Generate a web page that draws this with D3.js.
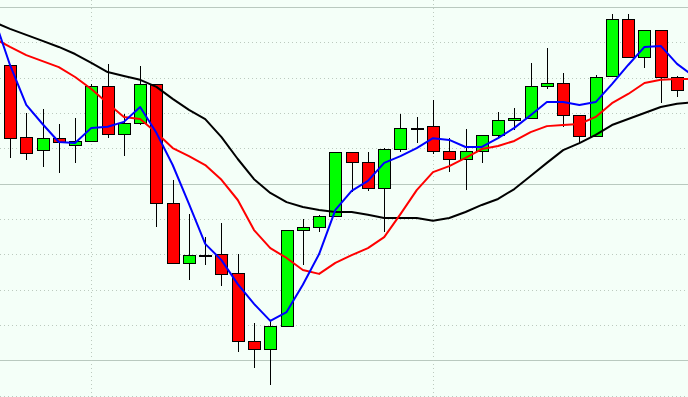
<!DOCTYPE html>
<html>
<head>
<meta charset="utf-8">
<script src="https://cdn.jsdelivr.net/npm/d3@7"></script>
<style>
  html, body { margin: 0; padding: 0; background: #f4fff8; }
  svg { display: block; }
</style>
</head>
<body>
<svg></svg>
<script>
var width = 688, height = 397;

// candles, one entry per bar (price units, grid step = 10)
var opens  = [133.6, 113.2, 109.5, 112.9, 111.0, 112.1, 127.7, 114.1, 117.2, 128.2,
              94.6, 77.6, 79.8, 80.1, 74.7, 55.5, 53.2, 59.8, 86.9, 87.8,
              90.9, 109.0, 106.2, 98.8, 109.8, 115.8, 116.3, 109.3, 107.0, 109.3,
              113.8, 118.0, 118.6, 127.7, 128.5, 119.4, 113.5, 130.5, 146.6, 135.9,
              143.5, 130.2];
var highs  = [133.6, 120.0, 121.1, 116.9, 118.6, 128.2, 133.9, 119.7, 133.3, 128.2,
              101.1, 91.4, 84.9, 88.9, 80.1, 60.6, 61.2, 86.9, 90.0, 91.2,
              109.0, 109.0, 109.0, 110.1, 119.7, 118.9, 123.7, 112.9, 115.5, 113.8,
              120.3, 121.4, 134.2, 138.4, 131.3, 119.4, 130.8, 148.0, 148.0, 143.5,
              143.5, 130.5];
var lows   = [107.3, 106.7, 104.7, 103.0, 105.9, 112.1, 112.9, 107.8, 116.6, 87.8,
              77.6, 72.8, 77.0, 71.1, 52.4, 47.9, 43.1, 59.8, 77.0, 86.3,
              90.9, 97.7, 97.9, 86.3, 109.0, 111.5, 108.4, 103.3, 98.2, 105.9,
              113.2, 115.2, 118.6, 126.8, 116.1, 111.5, 113.5, 130.5, 135.6, 132.7,
              122.8, 124.5];
var closes = [112.9, 108.7, 112.9, 111.8, 112.1, 127.7, 114.1, 117.2, 128.2, 94.6,
              77.6, 79.8, 79.8, 74.5, 55.5, 53.2, 59.8, 86.9, 87.8, 90.9,
              109.0, 106.2, 98.8, 109.8, 115.8, 115.8, 109.3, 107.0, 109.3, 113.8,
              118.0, 118.6, 127.7, 128.5, 119.4, 113.5, 130.2, 146.6, 135.9, 143.5,
              130.2, 126.5];

// moving averages, from one bar before the first candle to one bar after the last
var maFast = [147.2, 133.6, 122.3, 116.9, 111.8, 111.5, 115.8, 116.1, 117.5, 121.7,
              114.4, 105.3, 94.3, 83.0, 78.4, 71.6, 66.0, 61.2, 63.7, 71.4,
              80.1, 92.6, 98.0, 100.8, 105.9, 107.8, 110.1, 112.9, 112.4, 110.4,
              110.4, 112.9, 115.8, 119.4, 123.1, 123.1, 122.3, 123.1, 128.2, 133.6,
              138.7, 139.0, 133.9, 130.5];
var maMid  = [141.2, 138.7, 136.4, 134.7, 133.0, 130.2, 126.8, 122.8, 118.9, 118.3,
              114.4, 110.1, 107.8, 105.3, 101.1, 95.4, 86.9, 81.8, 79.0, 75.6,
              74.5, 77.6, 79.8, 81.8, 84.9, 91.4, 98.2, 103.3, 105.0, 107.3,
              109.8, 110.7, 112.1, 114.6, 116.3, 116.6, 116.9, 118.9, 122.8, 125.4,
              128.5, 129.4, 129.6, 129.6];
var maSlow = [145.8, 143.8, 142.1, 140.4, 138.7, 136.7, 134.2, 131.6, 130.5, 129.4,
              127.4, 124.0, 120.9, 118.3, 113.2, 107.0, 101.3, 97.4, 94.8, 93.4,
              92.6, 92.0, 92.0, 91.2, 90.3, 90.3, 90.3, 89.5, 90.3, 92.0,
              94.0, 95.7, 98.5, 102.2, 105.9, 109.5, 111.5, 113.8, 116.6, 118.3,
              120.0, 121.7, 122.6, 123.1];

var gridValues = [40, 50, 60, 70, 80, 90, 100, 110, 120, 130, 140, 150];
var majorValues = [50, 100, 150];
var sessionBars = [5, 26];

var candles = opens.map(function(o, i) {
  return {i: i, open: o, high: highs[i], low: lows[i], close: closes[i]};
});

var x = d3.scaleLinear().domain([-1, 42]).range([-6.27, 693.3]);
var y = d3.scaleLinear().domain([39.67, 151.98]).range([height, 0]);

var svg = d3.select("svg").attr("width", width).attr("height", height);

svg.append("rect").attr("width", width).attr("height", height).attr("fill", "#f4fff8");

// grid
svg.append("g").selectAll("line")
  .data(gridValues)
  .enter().append("line")
    .attr("x1", 0).attr("x2", width)
    .attr("y1", function(d) { return Math.round(y(d)) + 0.5; })
    .attr("y2", function(d) { return Math.round(y(d)) + 0.5; })
    .attr("stroke", function(d) { return majorValues.indexOf(d) >= 0 ? "#b9c9bf" : "#bccabf"; })
    .attr("stroke-dasharray", function(d) { return majorValues.indexOf(d) >= 0 ? null : "1,3"; });

svg.append("g").selectAll("line")
  .data(sessionBars)
  .enter().append("line")
    .attr("y1", 0).attr("y2", height)
    .attr("x1", function(d) { return Math.round(x(d)) + 0.5; })
    .attr("x2", function(d) { return Math.round(x(d)) + 0.5; })
    .attr("stroke", "#bccabf")
    .attr("stroke-dasharray", "1,3");

// candles
var candle = svg.append("g").attr("shape-rendering", "crispEdges")
  .selectAll("g")
  .data(candles)
  .enter().append("g");

candle.append("line")
    .attr("x1", function(d) { return Math.round(x(d.i)) + 0.5; })
    .attr("x2", function(d) { return Math.round(x(d.i)) + 0.5; })
    .attr("y1", function(d) { return Math.round(y(d.high)); })
    .attr("y2", function(d) { return Math.round(y(d.low)); })
    .attr("stroke", "#000");

candle.append("rect")
    .attr("x", function(d) { return Math.round(x(d.i)) - 5.5; })
    .attr("width", 12)
    .attr("y", function(d) { return Math.round(y(Math.max(d.open, d.close))) + 0.5; })
    .attr("height", function(d) { return Math.max(1, Math.round(Math.abs(y(d.open) - y(d.close)))); })
    .attr("fill", function(d) {
      if (d.close > d.open) return "#00ff00";
      if (d.close < d.open) return "#ff0000";
      return "#000";
    })
    .attr("stroke", "#000");

// moving averages
var line = d3.line()
  .x(function(d, i) { return x(i - 1); })
  .y(function(d) { return y(d); });

[[maSlow, "#000000"], [maMid, "#ff0000"], [maFast, "#0000ff"]].forEach(function(s) {
  svg.append("path")
    .datum(s[0])
    .attr("d", line)
    .attr("fill", "none")
    .attr("stroke", s[1])
    .attr("stroke-width", 2)
    .attr("stroke-linejoin", "round");
});
</script>
</body>
</html>
